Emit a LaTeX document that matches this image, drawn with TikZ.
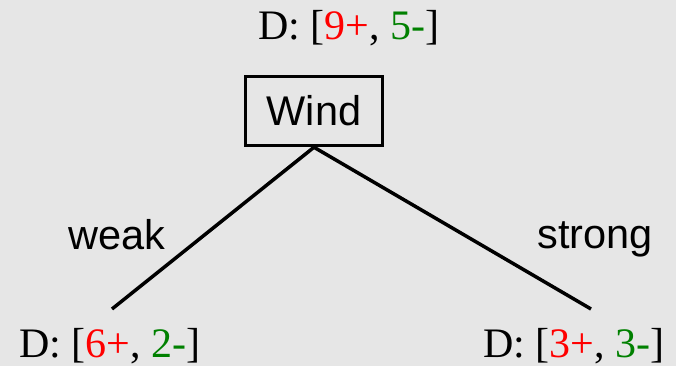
\documentclass[tikz,border=0pt]{standalone}
\usepackage{fontspec}
\setmainfont{Liberation Serif}
\newfontfamily\arialf{Liberation Sans}
\definecolor{bgc}{HTML}{E6E6E6}
\definecolor{pos}{HTML}{FF0000}
\definecolor{neg}{HTML}{008000}
\begin{document}
\begin{tikzpicture}[x=1pt,y=-1pt,
  dlabel/.style={anchor=base,inner sep=0pt,font=\fontsize{42}{42}\selectfont},
  sanslabel/.style={anchor=base,inner sep=0pt,font=\arialf\fontsize{41.5}{41.5}\selectfont},
  attr/.style={draw=black,line width=3.5pt,minimum width=137pt,minimum height=69pt,inner sep=0pt,font=\arialf\fontsize{41.5}{41.5}\selectfont},
  edge/.style={line width=3.5pt,black}]
\fill[bgc] (0,0) rectangle (676,366);
\useasboundingbox (0,0) rectangle (676,366);
\node[dlabel] (top) at (349,40) {D: [\textcolor{pos}{9+}, \textcolor{neg}{5-}]};
\node[attr] (wind) at (314,111) {Wind};
\coordinate (lend) at (112,309);
\coordinate (rend) at (591,309);
\draw[edge] (wind.south) -- (lend);
\draw[edge] (wind.south) -- (rend);
\node[sanslabel] (weak) at (116.5,249) {weak};
\node[sanslabel] (strong) at (595,248) {strong};
\node[dlabel] (left) at (110,357) {D: [\textcolor{pos}{6+}, \textcolor{neg}{2-}]};
\node[dlabel] (right) at (574,357) {D: [\textcolor{pos}{3+}, \textcolor{neg}{3-}]};
\end{tikzpicture}
\end{document}
